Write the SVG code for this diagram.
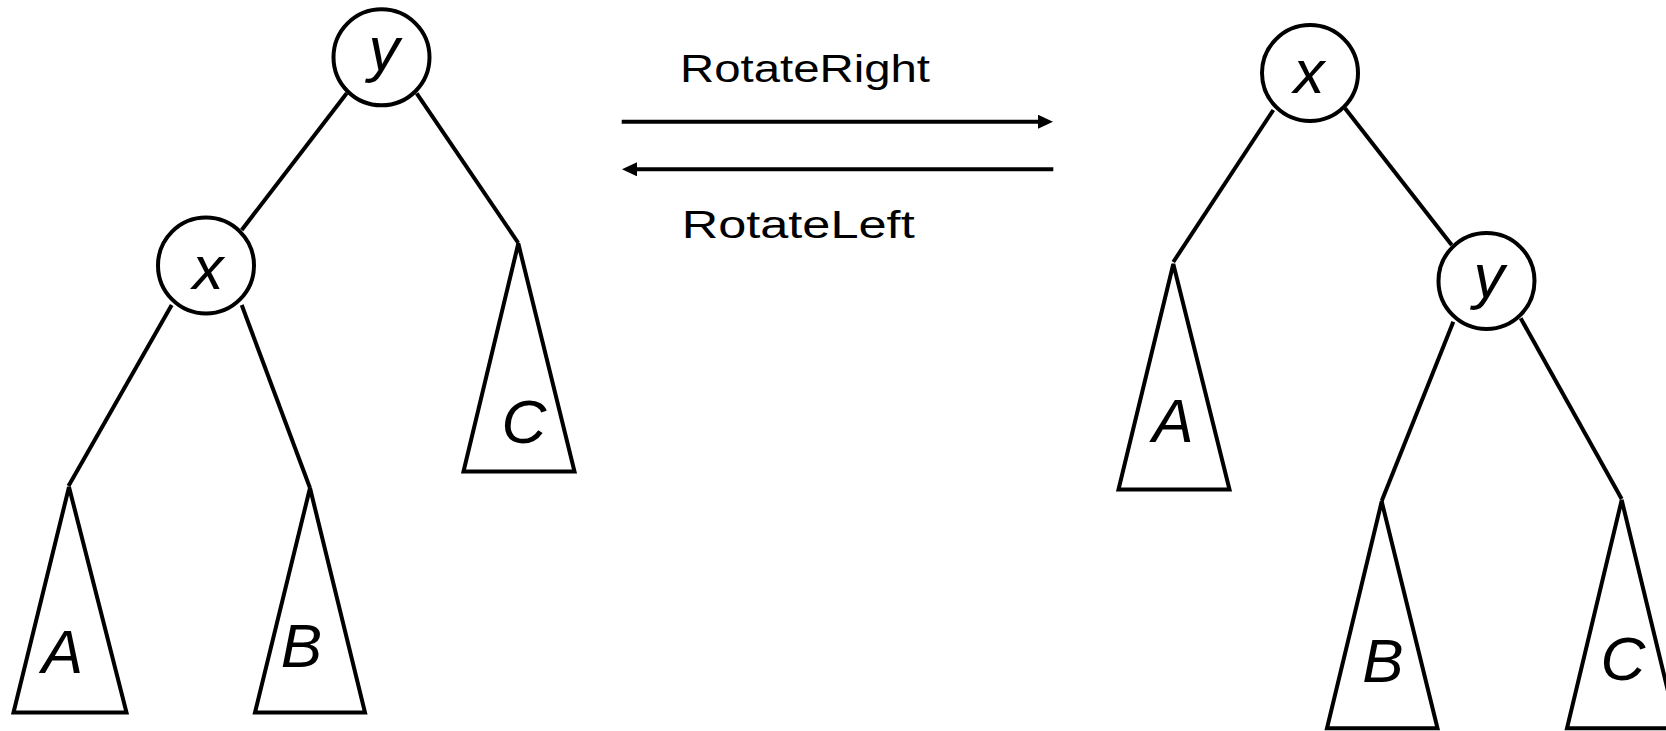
<svg xmlns="http://www.w3.org/2000/svg" width="1666" height="731" viewBox="0 0 1666 731">
<defs>
<style>
.node{fill:#fff;stroke:#000;stroke-width:4}
.tri{fill:#fff;stroke:#000;stroke-width:4;stroke-linejoin:miter}
.edge{stroke:#000;stroke-width:4;fill:none}
.lbl{font-family:"Liberation Sans",Arial,sans-serif;font-style:italic;font-size:62px;text-anchor:middle;fill:#000}
.op{font-family:"Liberation Sans",Arial,sans-serif;font-size:38px;fill:#000}
</style>
<marker id="ah" markerUnits="userSpaceOnUse" markerWidth="16" markerHeight="16" refX="1" refY="7" orient="auto">
<path d="M0,0 L15,7 L0,14 z" fill="#000"/>
</marker>
</defs>
<rect width="1666" height="731" fill="#fff"/>
<g id="connectors">
<line class="edge" x1="346.7" y1="93.3" x2="241.7" y2="230"/>
<line class="edge" x1="416.7" y1="93.3" x2="518.3" y2="243"/>
<line class="edge" x1="171.7" y1="305" x2="68.5" y2="486"/>
<line class="edge" x1="241.7" y1="305" x2="310" y2="488"/>
<line class="edge" x1="1273.3" y1="110" x2="1173.3" y2="262"/>
<line class="edge" x1="1345" y1="108.3" x2="1451.7" y2="245"/>
<line class="edge" x1="1453.3" y1="321.7" x2="1381.7" y2="501"/>
<line class="edge" x1="1520.7" y1="318.3" x2="1621.7" y2="499"/>
<line class="edge" x1="621.7" y1="121.7" x2="1039" y2="121.7" marker-end="url(#ah)"/>
<line class="edge" x1="1053.3" y1="169.3" x2="636" y2="169.3" marker-end="url(#ah)"/>
</g>
<g id="label-rotate-right"><text class="op" x="680" y="81.7" textLength="250" lengthAdjust="spacingAndGlyphs">RotateRight</text></g>
<g id="label-rotate-left"><text class="op" x="681.7" y="238.3" textLength="233" lengthAdjust="spacingAndGlyphs">RotateLeft</text></g>
<g id="left-y"><circle class="node" cx="381.5" cy="57.3" r="48"/><text class="lbl" x="384" y="70">y</text></g>
<g id="left-x"><circle class="node" cx="206" cy="265.5" r="48"/><text class="lbl" x="208" y="289.3">x</text></g>
<g id="left-A"><polygon class="tri" points="69,487 13.5,712.5 126.5,712.5"/><text class="lbl" x="62.5" y="673">A</text></g>
<g id="left-B"><polygon class="tri" points="310,488 255,712.5 365,712.5"/><text class="lbl" x="301.5" y="667">B</text></g>
<g id="left-C"><polygon class="tri" points="518.3,243.5 463.5,471.5 574.5,471.5"/><text class="lbl" x="524" y="443">C</text></g>
<g id="right-x"><circle class="node" cx="1310" cy="73" r="48"/><text class="lbl" x="1309" y="92.7">x</text></g>
<g id="right-y"><circle class="node" cx="1486.5" cy="281" r="48"/><text class="lbl" x="1489" y="296.7">y</text></g>
<g id="right-A"><polygon class="tri" points="1173.3,264 1118.5,489.5 1229.5,489.5"/><text class="lbl" x="1173" y="442">A</text></g>
<g id="right-B"><polygon class="tri" points="1381.7,501.5 1327,728.3 1437.5,728.3"/><text class="lbl" x="1383" y="682">B</text></g>
<g id="right-C"><polygon class="tri" points="1621.7,500 1567,728.3 1677,728.3"/><text class="lbl" x="1623" y="680">C</text></g>
</svg>
